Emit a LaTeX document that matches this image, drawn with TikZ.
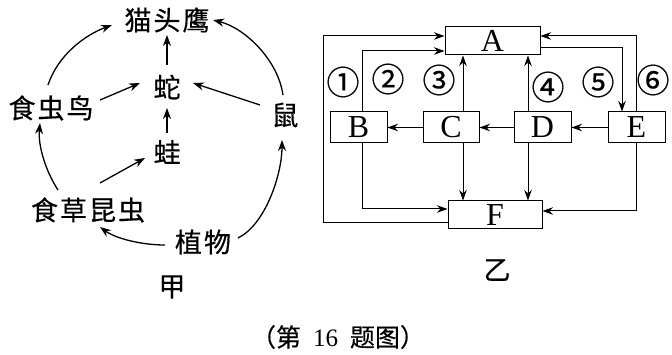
\documentclass[tikz,border=0pt]{standalone}
\usepackage{fontspec}
\setmainfont{Liberation Serif}
\newfontfamily\cjk{Noto Sans CJK SC}[RawFeature={embolden=0.4}]
\usetikzlibrary{arrows.meta}
\begin{document}
\begin{tikzpicture}[x=1pt,y=-1pt,
  arr/.style={-{Stealth[length=11pt,width=8pt]}, line width=1.3pt},
  rarr/.style={-{Stealth[length=10.5pt,width=7.5pt]}, line width=1pt},
  lbl/.style={font=\cjk\fontsize{27}{27}\selectfont, inner sep=0pt},
  circ/.style={font=\cjk\fontsize{33}{33}\selectfont, inner sep=0pt},
  box/.style={draw, line width=1pt, inner sep=0pt, font=\fontsize{32}{32}\selectfont}
]
\useasboundingbox (0,0) rectangle (672,355);
\fill[white] (0,0) rectangle (672,355);
% ---- left diagram (jia) ----
\node[lbl] (owl) at (167,20) {猫\hspace{2pt}头\hspace{2pt}鹰};
\node[lbl] (snake) at (167,87) {蛇};
\node[lbl] (bird) at (51,108) {食\hspace{2pt}虫\hspace{2pt}鸟};
\node[lbl] (mouse) at (285,115) {鼠};
\node[lbl] (frog) at (167,152) {蛙};
\node[lbl] (insect) at (88,210) {食\hspace{2pt}草\hspace{2pt}昆\hspace{2pt}虫};
\node[lbl] (plant) at (203,242) {植\hspace{2pt}物};
\node[lbl] (jia) at (172,287) {甲};
\draw[arr] ([shift={(-3,-23)}]bird.center) .. controls (58,55) and (85,35) .. ([shift={(-55,5)}]owl.center);
\draw[arr] ([shift={(49,-8)}]bird.center) -- ([shift={(-27,-4)}]snake.center);
\draw[arr] ([shift={(0,-22)}]snake.center) -- ([shift={(0,15)}]owl.center);
\draw[arr] ([shift={(-2,-20)}]mouse.center) .. controls (278,60) and (245,28) .. ([shift={(46,0)}]owl.center);
\draw[arr] ([shift={(-25,-10)}]mouse.center) -- ([shift={(26,-4)}]snake.center);
\draw[arr] ([shift={(0,-19)}]frog.center) -- ([shift={(0,21)}]snake.center);
\draw[arr] ([shift={(-30,-20)}]insect.center) .. controls (45,170) and (38,145) .. ([shift={(-11,15)}]bird.center);
\draw[arr] ([shift={(12,-27)}]insect.center) -- ([shift={(-22,6)}]frog.center);
\draw[arr] ([shift={(-38,3)}]plant.center) .. controls (140,245) and (115,238) .. ([shift={(12,17)}]insect.center);
\draw[arr] ([shift={(35,-4)}]plant.center) .. controls (265,225) and (282,175) .. ([shift={(-3,25)}]mouse.center);
% ---- right diagram (yi) ----
\node[box, minimum width=95pt, minimum height=28pt] (A) at (492.5,41) {A};
\node[box, minimum width=57pt, minimum height=31pt] (B) at (358.5,127.5) {B};
\node[box, minimum width=56pt, minimum height=31pt] (C) at (451,127.5) {C};
\node[box, minimum width=57pt, minimum height=31pt] (D) at (542.5,127.5) {D};
\node[box, minimum width=57pt, minimum height=31pt] (E) at (636.5,127.5) {E};
\node[box, minimum width=94pt, minimum height=28pt] (F) at (495,215) {F};
\node[lbl] (yi) at (497,270) {乙};
\draw[rarr] ([yshift=-8pt]F.west) -- ++(-124,0) |- ([yshift=5pt]A.west);
\draw[rarr] ([xshift=3.5pt]B.north) |- ([yshift=-10pt]A.west);
\draw[rarr] ([xshift=3.5pt]B.south) |- ([yshift=6pt]F.west);
\draw[rarr] ([xshift=12pt]C.north) -- ([xshift=12pt]C.north |- A.south);
\draw[rarr] ([xshift=12pt]C.south) -- ([xshift=12pt]C.south |- F.north);
\draw[rarr] ([xshift=-14.5pt]D.north) -- ([xshift=-14.5pt]D.north |- A.south);
\draw[rarr] ([xshift=-14.5pt]D.south) -- ([xshift=-14.5pt]D.south |- F.north);
\draw[rarr] ([yshift=-7pt]A.east) -| ([xshift=-14.5pt]E.north);
\draw[rarr] (E.north) |- ([yshift=5pt]A.east);
\draw[rarr] (E.south) |- ([yshift=4pt]F.east);
\draw[rarr] (E.west) -- (D.east);
\draw[rarr] (D.west) -- (C.east);
\draw[rarr] (C.west) -- (B.east);
\node[circ] (n1) at (343,82) {①};
\node[circ] (n2) at (388,79) {②};
\node[circ] (n3) at (439,80) {③};
\node[circ] (n4) at (548,87) {④};
\node[circ] (n5) at (598,82) {⑤};
\node[circ] (n6) at (653,80) {⑥};
% ---- caption ----
\node[font=\cjk\fontsize{25}{25}\selectfont, inner sep=0pt] (cap) at (338,337) {（第\hspace{12pt}{\rmfamily 16}\hspace{12pt}题图）};
\end{tikzpicture}
\end{document}
